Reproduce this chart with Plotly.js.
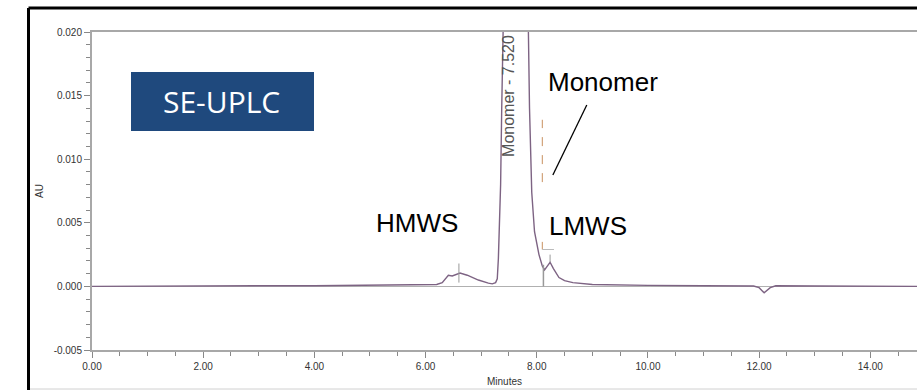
<!DOCTYPE html>
<html>
<head>
<meta charset="utf-8">
<script src="https://cdn.plot.ly/plotly-3.0.1.min.js"></script>
<style>
html,body{margin:0;padding:0;background:#fff;}
#chart{width:917px;height:390px;}
</style>
</head>
<body>
<div id="chart"></div>
<script>
// Retention time (minutes)
const timeMin = [0.00, 1.00, 2.00, 3.00, 4.00, 5.00, 5.80, 6.20, 6.30, 6.36, 6.41, 6.48, 6.55, 6.62, 6.75, 6.95, 7.13, 7.20, 7.26, 7.29, 7.31, 7.35, 7.37, 7.39, 7.42, 7.47, 7.52, 7.60, 7.70, 7.80, 7.85, 7.87, 7.89, 7.91, 7.96, 8.04, 8.10, 8.14, 8.19, 8.24, 8.30, 8.40, 8.50, 8.65, 9.00, 9.50, 10.00, 11.00, 11.90, 12.00, 12.09, 12.20, 12.30, 13.00, 14.00, 15.00];
// Absorbance (AU)
const absorbance = [0.0000, 0.00003, 0.00005, 0.00005, 0.00005, 0.00008, 0.00010, 0.00015, 0.00030, 0.00065, 0.00087, 0.00082, 0.00095, 0.00105, 0.00088, 0.00050, 0.00026, 0.00020, 0.00030, 0.00060, 0.00220, 0.00800, 0.01400, 0.02000, 0.03000, 0.04500, 0.05000, 0.04600, 0.03600, 0.02500, 0.02000, 0.01400, 0.00950, 0.00740, 0.00430, 0.00250, 0.00160, 0.00130, 0.00160, 0.00190, 0.00140, 0.00070, 0.00045, 0.00030, 0.00015, 0.00010, 0.00008, 0.00005, 0.00003, -0.00010, -0.00050, -0.00010, 0.00005, 0.00003, 0.00000, 0.00000];

const xTickVals = [0, 2, 4, 6, 8, 10, 12, 14];
const xTickLabels = ['0.00', '2.00', '4.00', '6.00', '8.00', '10.00', '12.00', '14.00'];
const yTickVals = [-0.005, 0.000, 0.005, 0.010, 0.015, 0.020];
const yTickLabels = ['-0.005', '0.000', '0.005', '0.010', '0.015', '0.020'];

const peakLabel = 'Monomer - 7.520';
const peakTime = 7.495;

const W = 917, H = 390, L = 92, R = 0, T = 32, B = 40;
const pw = W - L - R, ph = H - T - B;
const px = v => (v - L) / pw;
const py = v => (H - B - v) / ph;

const tickFont = {family: '"Liberation Sans Narrow", "Arial Narrow", "Liberation Sans", Arial, sans-serif', size: 10, color: '#333'};
const axisCol = '#a8a8a8';

const trace = {
  x: timeMin, y: absorbance, type: 'scatter', mode: 'lines',
  line: {color: '#7d6383', width: 1.4}, hoverinfo: 'skip', showlegend: false, cliponaxis: true
};

const layout = {
  width: W, height: H,
  margin: {l: L, r: R, t: T, b: B, pad: 0},
  paper_bgcolor: '#fff', plot_bgcolor: '#fff',
  xaxis: {
    range: [0, 14.84], tickvals: xTickVals, ticktext: xTickLabels,
    showgrid: false, zeroline: false, showline: true, linecolor: axisCol, linewidth: 2, mirror: true,
    ticks: 'outside', ticklen: 6, tickcolor: '#888', tickwidth: 1,
    minor: {dtick: 0.5, tick0: 0, ticks: 'outside', ticklen: 4, tickcolor: '#888', showgrid: false},
    tickfont: tickFont,
    title: {text: 'Minutes', font: tickFont, standoff: 7}
  },
  yaxis: {
    range: [-0.005, 0.020], tickvals: yTickVals, ticktext: yTickLabels,
    showgrid: false, zeroline: true, zerolinecolor: '#b0b0b0', zerolinewidth: 1,
    showline: true, linecolor: axisCol, linewidth: 2,
    ticks: 'outside', ticklen: 6, tickcolor: '#888', tickwidth: 1,
    minor: {dtick: 0.001, tick0: 0, ticks: 'outside', ticklen: 4, tickcolor: '#888', showgrid: false},
    tickfont: tickFont,
    title: {text: 'AU', font: tickFont, standoff: 8}
  },
  shapes: [
    // outer frame
    {type: 'line', xref: 'paper', yref: 'paper', x0: px(28.5), x1: 1.01, y0: py(8), y1: py(8), line: {color: '#000', width: 3}},
    {type: 'line', xref: 'paper', yref: 'paper', x0: px(28.5), x1: px(28.5), y0: py(8), y1: py(392), line: {color: '#000', width: 3}},
    {type: 'line', xref: 'paper', yref: 'paper', x0: px(30), x1: 1.01, y0: py(389), y1: py(389), line: {color: '#d0d0d0', width: 1}},
    // SE-UPLC box
    {type: 'rect', xref: 'paper', yref: 'paper', x0: px(131), x1: px(314), y0: py(131), y1: py(72), fillcolor: '#1f497d', line: {width: 0}},
    // peak marks
    {type: 'line', x0: 6.60, x1: 6.60, y0: 0.0003, y1: 0.0018, line: {color: '#999', width: 1}},
    {type: 'line', x0: 8.12, x1: 8.12, y0: 0.0, y1: 0.0017, line: {color: '#999', width: 1.5}},
    {type: 'line', x0: 8.24, x1: 8.24, y0: 0.0019, y1: 0.0025, line: {color: '#999', width: 1}},
    {type: 'line', x0: 8.10, x1: 8.10, y0: 0.0082, y1: 0.0131, line: {color: '#c89060', width: 1, dash: 'dash'}},
    {type: 'line', x0: 8.10, x1: 8.10, y0: 0.0029, y1: 0.0035, line: {color: '#c89060', width: 1}},
    {type: 'line', x0: 8.10, x1: 8.31, y0: 0.0029, y1: 0.0029, line: {color: '#bbb', width: 1}},
    // pointer line
    {type: 'line', x0: 8.90, x1: 8.29, y0: 0.01426, y1: 0.00876, line: {color: '#000', width: 1.3}}
  ],
  annotations: [
    {xref: 'paper', yref: 'paper', x: px(221), y: py(101.5), text: 'SE-UPLC', showarrow: false,
     font: {family: '"Open Sans", "Noto Sans", sans-serif', size: 30, color: '#fff'}, xanchor: 'center', yanchor: 'middle'},
    {xref: 'paper', yref: 'paper', x: px(546), y: py(82), text: 'Monomer', showarrow: false,
     font: {family: '"Liberation Sans", Arial, sans-serif', size: 26, color: '#000'}, xanchor: 'left', yanchor: 'middle'},
    {xref: 'paper', yref: 'paper', x: px(417), y: py(223), text: 'HMWS', showarrow: false,
     font: {family: '"Liberation Sans", Arial, sans-serif', size: 26, color: '#000'}, xanchor: 'center', yanchor: 'middle'},
    {xref: 'paper', yref: 'paper', x: px(587.5), y: py(226), text: 'LMWS', showarrow: false,
     font: {family: '"Liberation Sans", Arial, sans-serif', size: 26, color: '#000'}, xanchor: 'center', yanchor: 'middle'},
    {x: peakTime, y: 0.0199, text: peakLabel, showarrow: false, textangle: -90,
     font: {family: '"Liberation Sans", Arial, sans-serif', size: 16, color: '#555'}, xanchor: 'center', yanchor: 'top'}
  ]
};

Plotly.newPlot('chart', [trace], layout, {displayModeBar: false, staticPlot: true});
</script>
</body>
</html>
